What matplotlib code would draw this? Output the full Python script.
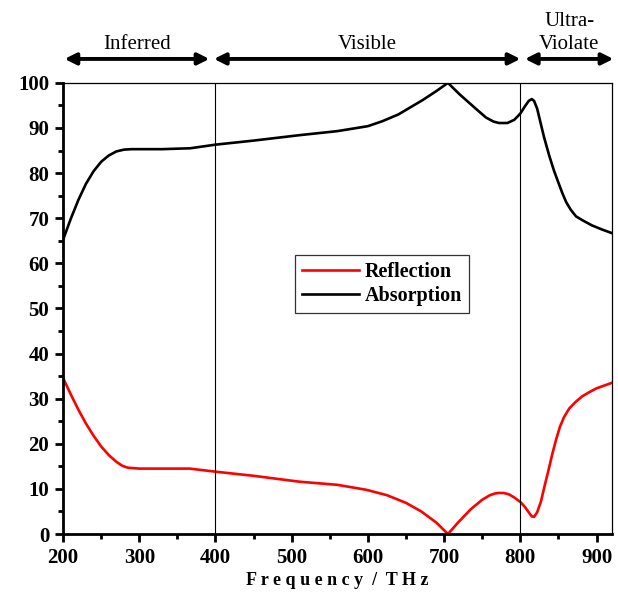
import matplotlib
matplotlib.use("Agg")
import matplotlib.pyplot as plt
from matplotlib.ticker import MultipleLocator

plt.rcParams['font.family'] = ['Liberation Serif', 'DejaVu Serif']

# Frequency (THz) and curves
freq_abs = [200, 210, 220, 230, 240, 250, 260, 270, 280, 290, 300, 330, 367, 400, 450, 510, 560,
            600, 619, 640, 660, 672, 690, 705, 720, 740, 755, 765, 772, 783, 792, 800, 806,
            811, 815, 818, 822, 826, 831, 838, 844, 849, 855, 860, 866, 873, 883, 894, 907, 920]
absorption = [65.2, 69.8, 74.0, 77.6, 80.4, 82.5, 83.9, 84.8, 85.2, 85.3, 85.3, 85.3, 85.5, 86.3, 87.2, 88.4, 89.3,
              90.4, 91.5, 93.0, 95.0, 96.2, 98.2, 100.0, 97.5, 94.5, 92.3, 91.4, 91.1, 91.1, 91.8, 93.2, 94.8,
              96.0, 96.4, 96.0, 94.3, 91.5, 88.0, 83.8, 80.6, 78.3, 75.6, 73.6, 71.9, 70.4, 69.4, 68.4, 67.5, 66.7]

freq_ref = [200, 210, 220, 230, 240, 250, 260, 270, 278, 285, 300, 330, 366, 401, 450, 510, 560,
            598, 625, 650, 670, 690, 705, 718, 735, 750, 760, 767, 772, 778, 785, 792, 800, 806,
            811, 815, 818, 822, 827, 832, 837, 842, 847, 852, 857, 864, 872, 881, 890, 900, 910, 920]
reflection = [34.6, 31.0, 27.6, 24.5, 21.8, 19.4, 17.5, 16.0, 15.1, 14.7, 14.5, 14.5, 14.5, 13.8, 12.9, 11.6, 10.9,
              9.8, 8.6, 6.9, 5.0, 2.5, 0.0, 2.5, 5.5, 7.6, 8.6, 9.0, 9.1, 9.1, 8.8, 8.1, 7.1, 6.0,
              4.8, 3.9, 3.8, 4.8, 7.2, 10.8, 14.2, 17.8, 21.0, 23.8, 25.8, 27.8, 29.2, 30.5, 31.4, 32.3, 32.9, 33.5]

bands = ['Inferred', 'Visible', 'Ultra-\nViolate']
band_edges = [(202, 392), (398, 800), (806, 922)]

fig = plt.figure(figsize=(6.18, 5.96), dpi=100)
ax = fig.add_axes([0.102, 0.104, 0.888, 0.757])

ax.plot(freq_ref, reflection, color='#ff0000', lw=1.9, label='Reflection')
ax.plot(freq_abs, absorption, color='black', lw=1.9, label='Absorption')

for xv in (400, 800):
    ax.axvline(xv, color='black', lw=0.8)

ax.set_xlim(200, 920)
ax.set_ylim(0, 100)
ax.xaxis.set_major_locator(MultipleLocator(100))
ax.xaxis.set_minor_locator(MultipleLocator(50))
ax.yaxis.set_major_locator(MultipleLocator(10))
ax.yaxis.set_minor_locator(MultipleLocator(5))
ax.tick_params(which='major', direction='out', length=6, width=2, labelsize=15, pad=4)
ax.tick_params(which='minor', direction='out', length=3.5, width=2)
for lab in ax.get_xticklabels() + ax.get_yticklabels():
    lab.set_fontweight('bold')

ax.spines['left'].set_linewidth(2)
ax.spines['bottom'].set_linewidth(2)
ax.spines['top'].set_linewidth(0.9)
ax.spines['right'].set_linewidth(0.9)

ax.set_xlabel('F r e q u e n c y  /  T H z', fontsize=13, fontweight='bold', labelpad=3)

for name, (x0, x1) in zip(bands, band_edges):
    ax.annotate('', xy=(x0, 1.053), xytext=(x1, 1.053), xycoords=('data', 'axes fraction'),
                textcoords=('data', 'axes fraction'), annotation_clip=False,
                arrowprops=dict(arrowstyle='<|-|>', color='black', lw=2.8,
                                mutation_scale=17, shrinkA=0, shrinkB=0))
    ax.text((x0 + x1) / 2, 1.064, name, transform=ax.get_xaxis_transform(),
            ha='center', va='bottom', fontsize=15, linespacing=1.25)

leg = ax.legend(loc='upper left', bbox_to_anchor=(0.423, 0.619), frameon=True,
                fancybox=False, edgecolor='black', handlelength=2.8, handletextpad=0.3,
                borderpad=0.35, labelspacing=0.2, borderaxespad=0,
                prop={'weight': 'bold', 'size': 14.5})
leg.get_frame().set_linewidth(0.9)

fig.savefig('out.png', dpi=100)
